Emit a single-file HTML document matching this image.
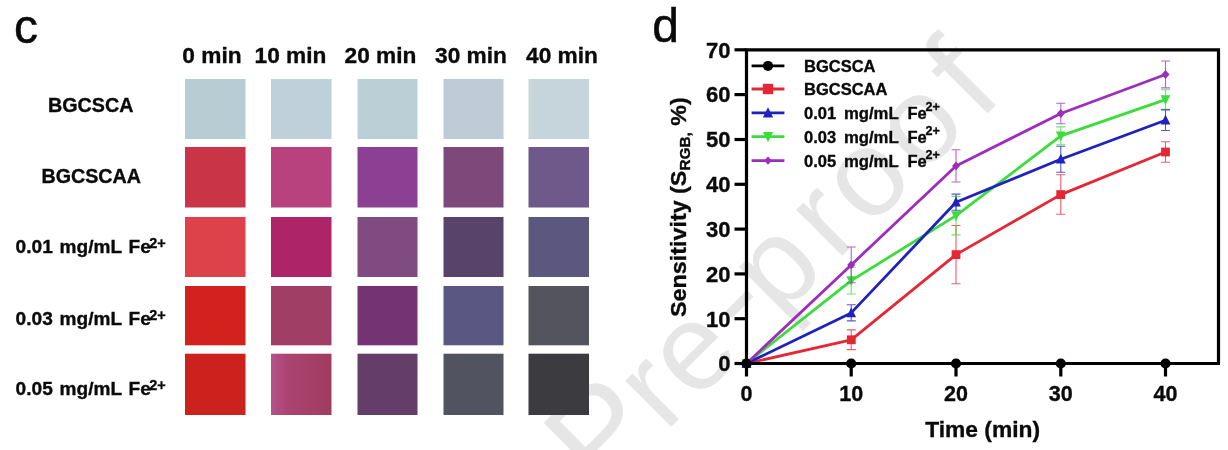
<!DOCTYPE html>
<html><head><meta charset="utf-8"><title>figure</title>
<style>
html,body{margin:0;padding:0;background:#fff;}
body{width:1228px;height:450px;overflow:hidden;font-family:"Liberation Sans",sans-serif;}
svg{display:block;font-family:"Liberation Sans",sans-serif;}
#fig{filter:blur(0.55px);}
.b{font-weight:bold;fill:#0a0a0a;stroke:#0a0a0a;stroke-width:0.35px;}
</style></head><body>
<svg width="1228" height="450" viewBox="0 0 1228 450">
<rect width="1228" height="450" fill="#ffffff"/>
<g id="fig"><defs><linearGradient id="g52" x1="0" x2="1" y1="0" y2="0"><stop offset="0" stop-color="#b5528d"/><stop offset="0.3" stop-color="#ab436f"/><stop offset="1" stop-color="#a03c60"/></linearGradient></defs>
<g transform="translate(601.5,496.5) rotate(-45)" fill="#e6e6e6"><text x="0.0" y="0" font-size="135">P</text><text x="90.0" y="0" font-size="123">r</text><text x="132.3" y="0" font-size="123">e</text><text x="213.1" y="-6" font-size="123">-</text><text x="251.4" y="0" font-size="123">p</text><text x="332.1" y="0" font-size="123">r</text><text x="378.4" y="0" font-size="123">o</text><text x="453.4" y="0" font-size="123">o</text><text x="532.3" y="2" font-size="131">f</text></g>
<text x="14" y="42.5" font-size="48" fill="#0a0a0a" stroke="#0a0a0a" stroke-width="0.5">c</text>
<text x="652.2" y="42.3" font-size="48" fill="#0a0a0a" stroke="#0a0a0a" stroke-width="0.5">d</text>
<text class="b" x="212" y="62.7" font-size="22.7" text-anchor="middle">0 min</text>
<text class="b" x="290.5" y="62.7" font-size="22.7" text-anchor="middle">10 min</text>
<text class="b" x="380.5" y="62.7" font-size="22.7" text-anchor="middle">20 min</text>
<text class="b" x="471" y="62.7" font-size="22.7" text-anchor="middle">30 min</text>
<text class="b" x="562" y="62.7" font-size="22.7" text-anchor="middle">40 min</text>
<text class="b" x="90.7" y="112" font-size="19.7" text-anchor="middle">BGCSCA</text>
<text class="b" x="91.2" y="182.7" font-size="19.7" text-anchor="middle">BGCSCAA</text>
<g class="b" font-size="19.1"><text x="15.6" y="253.2">0.01</text><text x="59.6" y="253.2" textLength="62.5" lengthAdjust="spacingAndGlyphs">mg/mL</text><text x="128.6" y="253.2">Fe</text><text x="149.2" y="248.0" font-size="14.5">2+</text></g>
<g class="b" font-size="19.1"><text x="15.6" y="325">0.03</text><text x="59.6" y="325" textLength="62.5" lengthAdjust="spacingAndGlyphs">mg/mL</text><text x="128.6" y="325">Fe</text><text x="149.2" y="319.8" font-size="14.5">2+</text></g>
<g class="b" font-size="19.1"><text x="15.6" y="395">0.05</text><text x="59.6" y="395" textLength="62.5" lengthAdjust="spacingAndGlyphs">mg/mL</text><text x="128.6" y="395">Fe</text><text x="149.2" y="389.8" font-size="14.5">2+</text></g>
<rect x="185" y="79" width="60.5" height="60" fill="#b8ccd3"/>
<rect x="271" y="79" width="60.5" height="60" fill="#c0d0da"/>
<rect x="357.5" y="79" width="60.0" height="60" fill="#bbd0d6"/>
<rect x="443.5" y="79" width="60.0" height="60" fill="#bfcbd7"/>
<rect x="528.5" y="79" width="60.5" height="60" fill="#c6d4db"/>
<rect x="185" y="147" width="60.5" height="60.5" fill="#c93446"/>
<rect x="271" y="147" width="60.5" height="60.5" fill="#b8427d"/>
<rect x="357.5" y="147" width="60.0" height="60.5" fill="#8c4093"/>
<rect x="443.5" y="147" width="60.0" height="60.5" fill="#7d497a"/>
<rect x="528.5" y="147" width="60.5" height="60.5" fill="#6f598b"/>
<rect x="185" y="217" width="60.5" height="60" fill="#dd4149"/>
<rect x="271" y="217" width="60.5" height="60" fill="#ae2468"/>
<rect x="357.5" y="217" width="60.0" height="60" fill="#804b81"/>
<rect x="443.5" y="217" width="60.0" height="60" fill="#58446b"/>
<rect x="528.5" y="217" width="60.5" height="60" fill="#5b577f"/>
<rect x="185" y="286" width="60.5" height="59.30000000000001" fill="#d3221e"/>
<rect x="271" y="286" width="60.5" height="59.30000000000001" fill="#a03e66"/>
<rect x="357.5" y="286" width="60.0" height="59.30000000000001" fill="#743372"/>
<rect x="443.5" y="286" width="60.0" height="59.30000000000001" fill="#5a5783"/>
<rect x="528.5" y="286" width="60.5" height="59.30000000000001" fill="#54545f"/>
<rect x="185" y="353.7" width="60.5" height="61.30000000000001" fill="#cc221e"/>
<rect x="271" y="353.7" width="60.5" height="61.30000000000001" fill="url(#g52)"/>
<rect x="357.5" y="353.7" width="60.0" height="61.30000000000001" fill="#653d69"/>
<rect x="443.5" y="353.7" width="60.0" height="61.30000000000001" fill="#525361"/>
<rect x="528.5" y="353.7" width="60.5" height="61.30000000000001" fill="#3b3b40"/>
<polyline points="746.5,363.5 851.2,339.8 956.0,254.6 1060.8,194.6 1165.5,152.0" fill="none" stroke="#e52634" stroke-width="2.8" stroke-linejoin="round"/>
<rect x="742.1" y="359.1" width="8.8" height="8.8" fill="#e52634"/>
<path d="M851.2,329.9V349.6M846.8,329.9h9M846.8,349.6h9" stroke="#e52634" stroke-width="1.1" fill="none" opacity="0.75"/>
<rect x="846.9" y="335.4" width="8.8" height="8.8" fill="#e52634"/>
<path d="M956.0,225.5V283.7M951.5,225.5h9M951.5,283.7h9" stroke="#e52634" stroke-width="1.1" fill="none" opacity="0.75"/>
<rect x="951.6" y="250.2" width="8.8" height="8.8" fill="#e52634"/>
<path d="M1060.8,174.8V214.3M1056.2,174.8h9M1056.2,214.3h9" stroke="#e52634" stroke-width="1.1" fill="none" opacity="0.75"/>
<rect x="1056.3" y="190.2" width="8.8" height="8.8" fill="#e52634"/>
<path d="M1165.5,141.7V162.3M1161.0,141.7h9M1161.0,162.3h9" stroke="#e52634" stroke-width="1.1" fill="none" opacity="0.75"/>
<rect x="1161.1" y="147.6" width="8.8" height="8.8" fill="#e52634"/>
<polyline points="746.5,363.5 851.2,280.6 956.0,215.6 1060.8,135.9 1165.5,99.6" fill="none" stroke="#3cdc3c" stroke-width="2.8" stroke-linejoin="round"/>
<polygon points="746.5,368.9 751.4,359.1 741.6,359.1" fill="#3cdc3c"/>
<path d="M851.2,267.2V294.0M846.8,267.2h9M846.8,294.0h9" stroke="#3cdc3c" stroke-width="1.1" fill="none" opacity="0.75"/>
<polygon points="851.2,286.0 856.1,276.2 846.4,276.2" fill="#3cdc3c"/>
<path d="M956.0,196.4V234.9M951.5,196.4h9M951.5,234.9h9" stroke="#3cdc3c" stroke-width="1.1" fill="none" opacity="0.75"/>
<polygon points="956.0,221.0 960.9,211.2 951.1,211.2" fill="#3cdc3c"/>
<path d="M1060.8,126.9V144.8M1056.2,126.9h9M1056.2,144.8h9" stroke="#3cdc3c" stroke-width="1.1" fill="none" opacity="0.75"/>
<polygon points="1060.8,141.3 1065.7,131.5 1055.8,131.5" fill="#3cdc3c"/>
<path d="M1165.5,89.7V109.4M1161.0,89.7h9M1161.0,109.4h9" stroke="#3cdc3c" stroke-width="1.1" fill="none" opacity="0.75"/>
<polygon points="1165.5,105.0 1170.4,95.2 1160.6,95.2" fill="#3cdc3c"/>
<polyline points="746.5,363.5 851.2,312.9 956.0,202.2 1060.8,159.2 1165.5,120.2" fill="none" stroke="#1f22bc" stroke-width="2.8" stroke-linejoin="round"/>
<polygon points="746.5,358.1 751.4,367.9 741.6,367.9" fill="#1f22bc"/>
<path d="M851.2,304.8V320.9M846.8,304.8h9M846.8,320.9h9" stroke="#1f22bc" stroke-width="1.1" fill="none" opacity="0.75"/>
<polygon points="851.2,307.5 856.1,317.3 846.4,317.3" fill="#1f22bc"/>
<path d="M956.0,194.1V210.2M951.5,194.1h9M951.5,210.2h9" stroke="#1f22bc" stroke-width="1.1" fill="none" opacity="0.75"/>
<polygon points="956.0,196.8 960.9,206.6 951.1,206.6" fill="#1f22bc"/>
<path d="M1060.8,146.2V172.2M1056.2,146.2h9M1056.2,172.2h9" stroke="#1f22bc" stroke-width="1.1" fill="none" opacity="0.75"/>
<polygon points="1060.8,153.8 1065.7,163.6 1055.8,163.6" fill="#1f22bc"/>
<path d="M1165.5,109.9V130.5M1161.0,109.9h9M1161.0,130.5h9" stroke="#1f22bc" stroke-width="1.1" fill="none" opacity="0.75"/>
<polygon points="1165.5,114.8 1170.4,124.6 1160.6,124.6" fill="#1f22bc"/>
<polyline points="746.5,363.5 851.2,264.9 956.0,165.9 1060.8,113.5 1165.5,74.5" fill="none" stroke="#9d2dbd" stroke-width="2.8" stroke-linejoin="round"/>
<polygon points="746.5,359.1 750.5,363.5 746.5,367.9 742.5,363.5" fill="#9d2dbd"/>
<path d="M851.2,247.0V282.8M846.8,247.0h9M846.8,282.8h9" stroke="#9d2dbd" stroke-width="1.1" fill="none" opacity="0.75"/>
<polygon points="851.2,260.5 855.2,264.9 851.2,269.3 847.2,264.9" fill="#9d2dbd"/>
<path d="M956.0,149.8V182.0M951.5,149.8h9M951.5,182.0h9" stroke="#9d2dbd" stroke-width="1.1" fill="none" opacity="0.75"/>
<polygon points="956.0,161.5 960.0,165.9 956.0,170.3 952.0,165.9" fill="#9d2dbd"/>
<path d="M1060.8,103.2V123.8M1056.2,103.2h9M1056.2,123.8h9" stroke="#9d2dbd" stroke-width="1.1" fill="none" opacity="0.75"/>
<polygon points="1060.8,109.1 1064.8,113.5 1060.8,117.9 1056.8,113.5" fill="#9d2dbd"/>
<path d="M1165.5,61.0V87.9M1161.0,61.0h9M1161.0,87.9h9" stroke="#9d2dbd" stroke-width="1.1" fill="none" opacity="0.75"/>
<polygon points="1165.5,70.1 1169.5,74.5 1165.5,78.9 1161.5,74.5" fill="#9d2dbd"/>
<circle cx="746.5" cy="363.5" r="4.4" fill="#000000"/>
<circle cx="851.2" cy="363.5" r="4.4" fill="#000000"/>
<circle cx="956.0" cy="363.5" r="4.4" fill="#000000"/>
<circle cx="1060.8" cy="363.5" r="4.4" fill="#000000"/>
<circle cx="1165.5" cy="363.5" r="4.4" fill="#000000"/>
<path d="M746.5,363.5V49.8H1218.5V363.5" fill="none" stroke="#000" stroke-width="3.2"/>
<path d="M745.1,363.5H1220" fill="none" stroke="#000" stroke-width="3.2"/>
<path d="M734.5,363.5H746.5" stroke="#000" stroke-width="3.2"/>
<text class="b" x="730.6" y="371.3" font-size="22" text-anchor="end">0</text>
<path d="M734.5,318.7H746.5" stroke="#000" stroke-width="3.2"/>
<text class="b" x="730.6" y="326.5" font-size="22" text-anchor="end">10</text>
<path d="M734.5,273.9H746.5" stroke="#000" stroke-width="3.2"/>
<text class="b" x="730.6" y="281.7" font-size="22" text-anchor="end">20</text>
<path d="M734.5,229.1H746.5" stroke="#000" stroke-width="3.2"/>
<text class="b" x="730.6" y="236.9" font-size="22" text-anchor="end">30</text>
<path d="M734.5,184.3H746.5" stroke="#000" stroke-width="3.2"/>
<text class="b" x="730.6" y="192.1" font-size="22" text-anchor="end">40</text>
<path d="M734.5,139.5H746.5" stroke="#000" stroke-width="3.2"/>
<text class="b" x="730.6" y="147.3" font-size="22" text-anchor="end">50</text>
<path d="M734.5,94.6H746.5" stroke="#000" stroke-width="3.2"/>
<text class="b" x="730.6" y="102.4" font-size="22" text-anchor="end">60</text>
<path d="M734.5,49.8H746.5" stroke="#000" stroke-width="3.2"/>
<text class="b" x="730.6" y="57.6" font-size="22" text-anchor="end">70</text>
<path d="M746.5,363.5V376.5" stroke="#000" stroke-width="3.2"/>
<text class="b" x="746.5" y="401.2" font-size="21.5" text-anchor="middle">0</text>
<path d="M851.2,363.5V376.5" stroke="#000" stroke-width="3.2"/>
<text class="b" x="851.2" y="401.2" font-size="21.5" text-anchor="middle">10</text>
<path d="M956.0,363.5V376.5" stroke="#000" stroke-width="3.2"/>
<text class="b" x="956.0" y="401.2" font-size="21.5" text-anchor="middle">20</text>
<path d="M1060.8,363.5V376.5" stroke="#000" stroke-width="3.2"/>
<text class="b" x="1060.8" y="401.2" font-size="21.5" text-anchor="middle">30</text>
<path d="M1165.5,363.5V376.5" stroke="#000" stroke-width="3.2"/>
<text class="b" x="1165.5" y="401.2" font-size="21.5" text-anchor="middle">40</text>
<circle cx="746.5" cy="363.5" r="5.1" fill="#000"/>
<circle cx="851.2" cy="363.5" r="5.1" fill="#000"/>
<circle cx="956.0" cy="363.5" r="5.1" fill="#000"/>
<circle cx="1060.8" cy="363.5" r="5.1" fill="#000"/>
<circle cx="1165.5" cy="363.5" r="5.1" fill="#000"/>
<text class="b" x="982.6" y="437.2" font-size="22.8" text-anchor="middle">Time (min)</text>
<text class="b" transform="translate(685.8,317) rotate(-90) scale(1.095,1)" font-size="21.3">Sensitivity (S<tspan font-size="14" dy="4.3">RGB,</tspan><tspan dy="-4.3"> %)</tspan></text>
<path d="M751.6,65.9H784.4" stroke="#000000" stroke-width="2.8"/>
<circle cx="768.0" cy="65.9" r="5.0" fill="#000000"/>
<text class="b" x="804" y="71.7" font-size="16.5">BGCSCA</text>
<path d="M751.6,89H784.4" stroke="#e52634" stroke-width="2.8"/>
<rect x="762.8" y="83.8" width="10.4" height="10.4" fill="#e52634"/>
<text class="b" x="804" y="94.8" font-size="16.5">BGCSCAA</text>
<path d="M751.6,112.9H784.4" stroke="#1f22bc" stroke-width="2.8"/>
<polygon points="768.0,107.3 773.1,117.5 762.9,117.5" fill="#1f22bc"/>
<g class="b" font-size="16.5"><text x="804" y="118.9">0.01</text><text x="843.9" y="118.9" textLength="54.8" lengthAdjust="spacingAndGlyphs">mg/mL</text><text x="907.4" y="118.9">Fe</text><text x="925.6" y="111.1" font-size="12.6">2+</text></g>
<path d="M751.6,136.6H784.4" stroke="#3cdc3c" stroke-width="2.8"/>
<polygon points="768.0,142.2 773.1,132.0 762.9,132.0" fill="#3cdc3c"/>
<g class="b" font-size="16.5"><text x="804" y="142.6">0.03</text><text x="843.9" y="142.6" textLength="54.8" lengthAdjust="spacingAndGlyphs">mg/mL</text><text x="907.4" y="142.6">Fe</text><text x="925.6" y="134.8" font-size="12.6">2+</text></g>
<path d="M751.6,160.6H784.4" stroke="#9d2dbd" stroke-width="2.8"/>
<polygon points="768.0,156.4 771.8,160.6 768.0,164.8 764.2,160.6" fill="#9d2dbd"/>
<g class="b" font-size="16.5"><text x="804" y="166.6">0.05</text><text x="843.9" y="166.6" textLength="54.8" lengthAdjust="spacingAndGlyphs">mg/mL</text><text x="907.4" y="166.6">Fe</text><text x="925.6" y="158.8" font-size="12.6">2+</text></g>
</g></svg>
</body></html>
